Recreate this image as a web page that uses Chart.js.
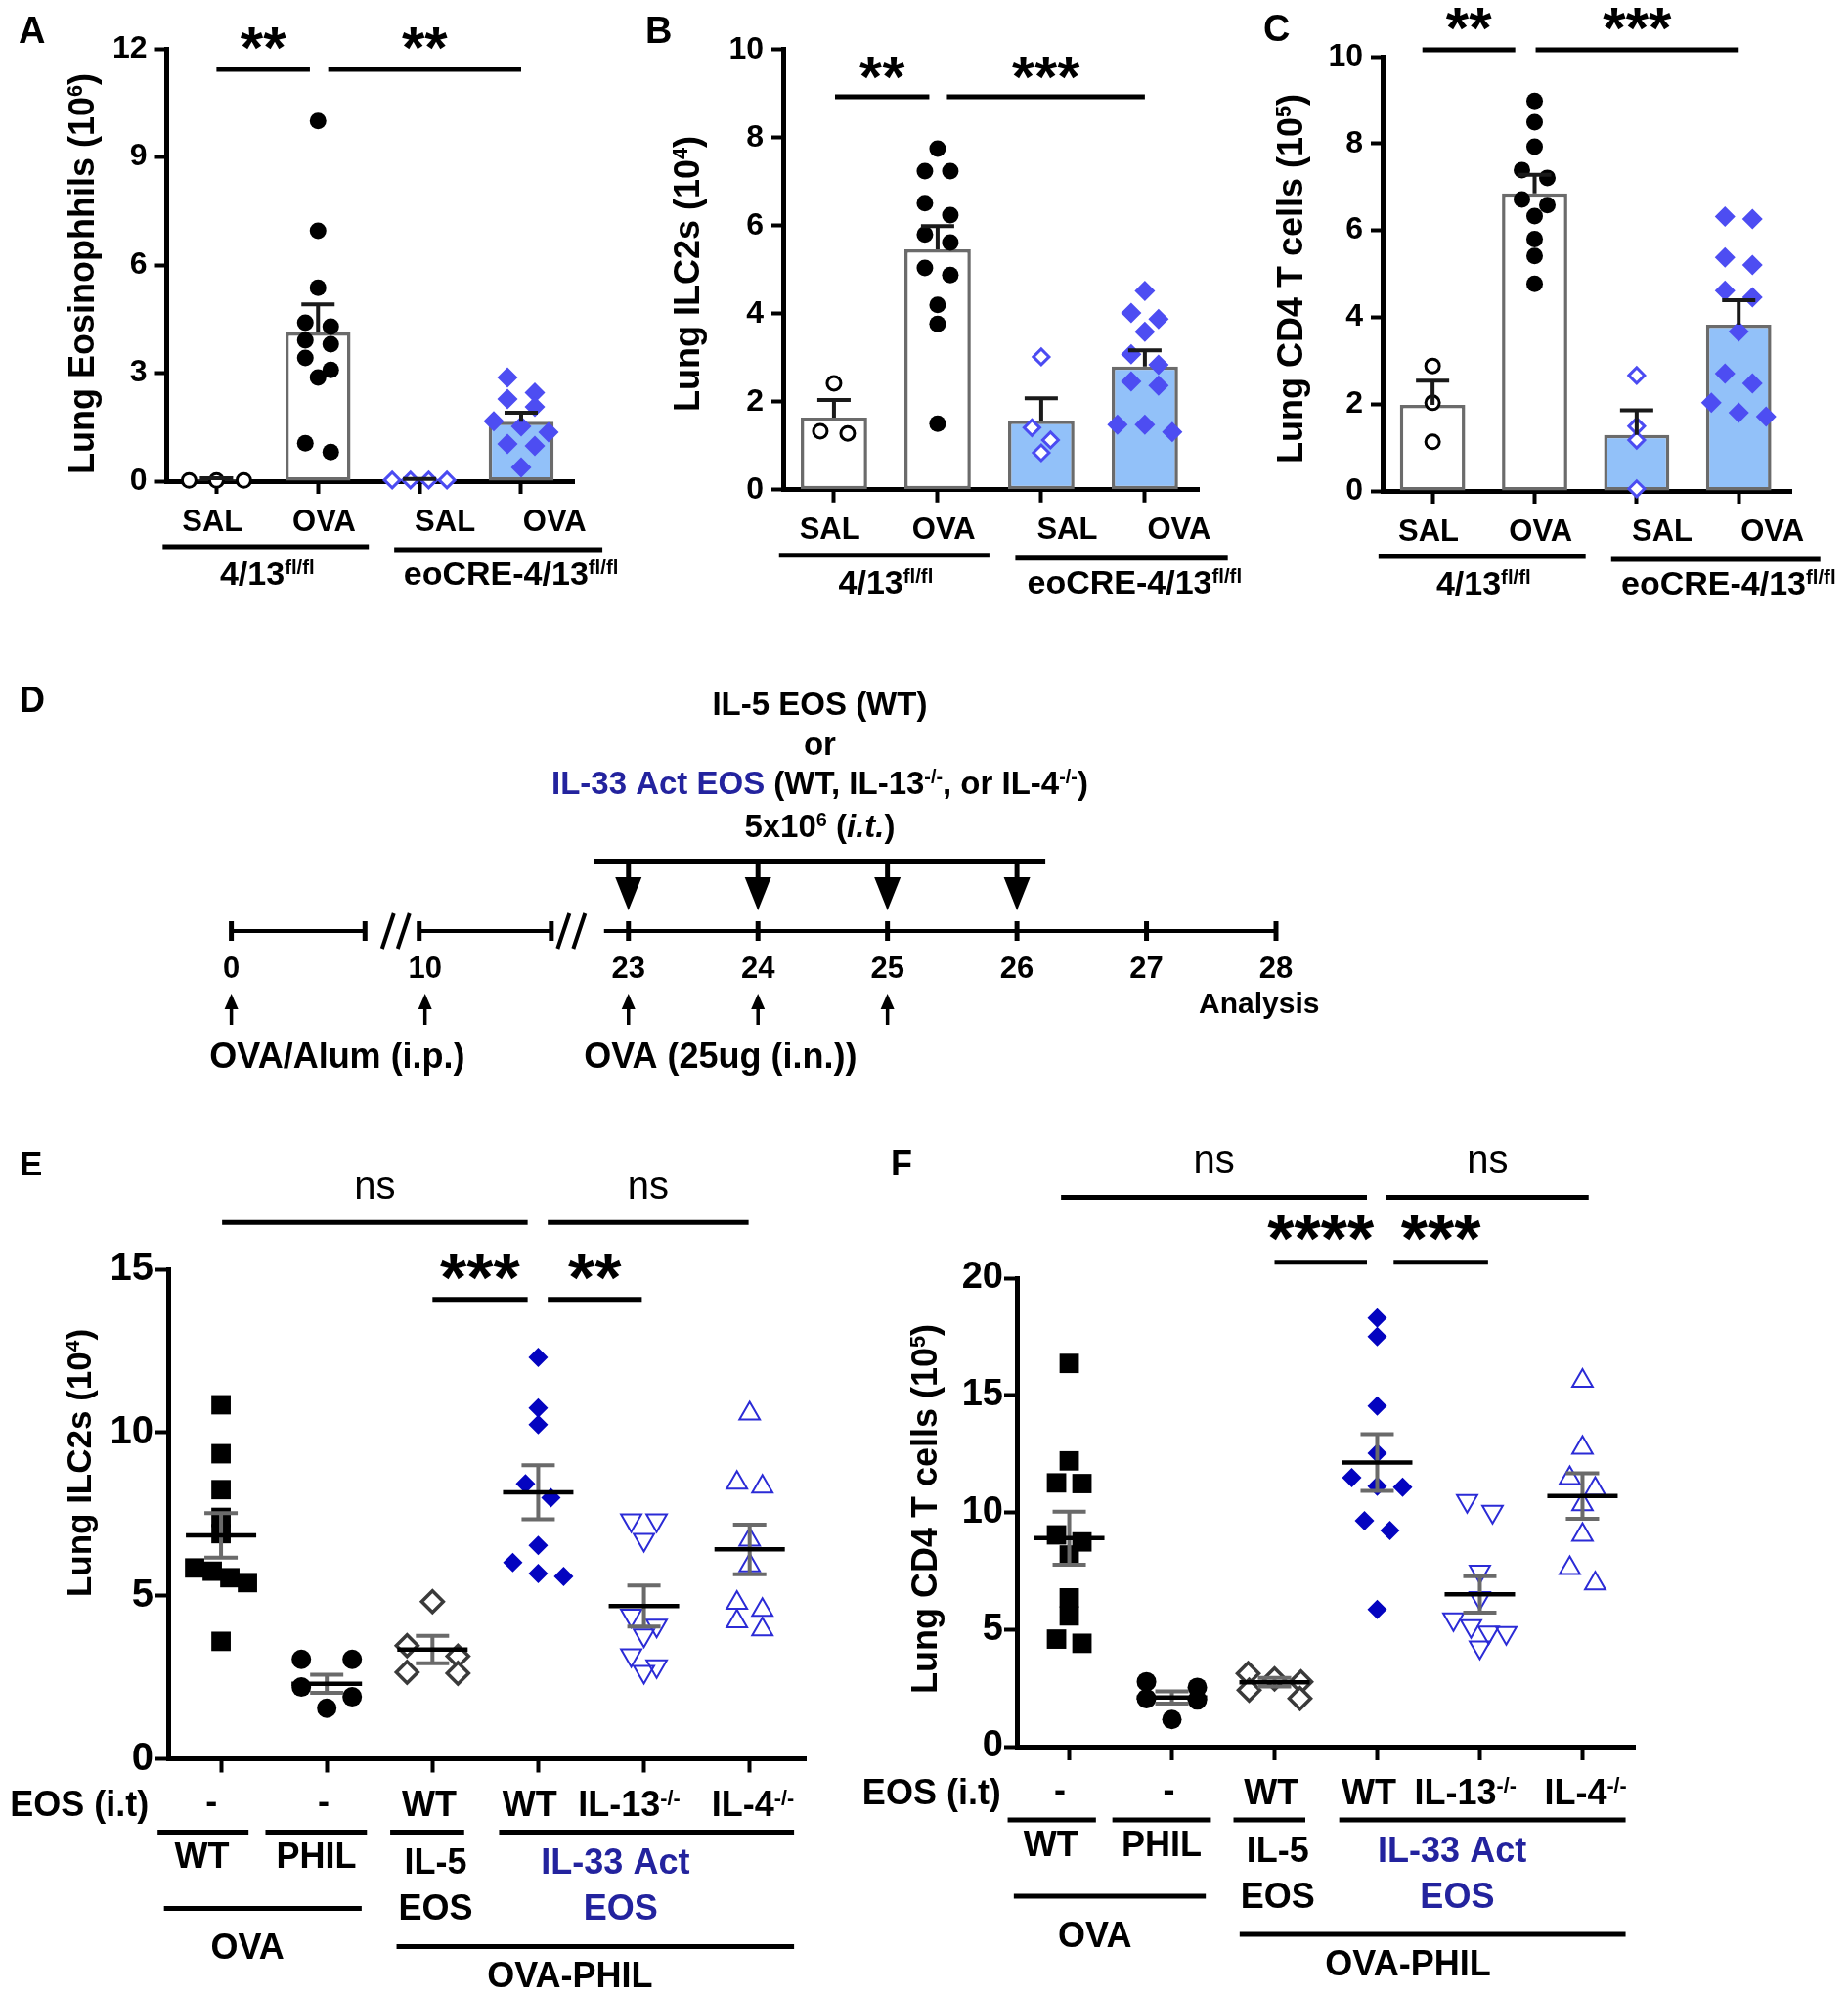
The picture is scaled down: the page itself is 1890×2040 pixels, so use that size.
<!DOCTYPE html>
<html>
<head>
<meta charset="utf-8">
<script src="https://cdn.jsdelivr.net/npm/chart.js@4.4.1/dist/chart.umd.min.js"></script>
<style>
html, body { margin: 0; padding: 0; background: #fff; }
#page { position: relative; width: 1890px; height: 2040px; overflow: hidden; background: #fff; }
canvas { position: absolute; }
</style>
</head>
<body>
<div id="page"></div>
<script>
// ---------- data ----------
const barCategories = ['SAL', 'OVA', 'SAL', 'OVA'];
const strainNames = [['4/13', 'fl/fl'], ['eoCRE-4/13', 'fl/fl']];

// A: lung eosinophils (10^6)
const aTicks = [0, 3, 6, 9, 12];
const aMean = [0.05, 4.13, 0.04, 1.65];
const aSem = [0.03, 0.78, 0.02, 0.25];
const aSal = [0.02, 0.02, 0.02];
const aOva = [10.0, 6.95, 5.37, 4.40, 4.29, 3.91, 3.80, 3.42, 3.09, 2.88, 1.05, 0.81];
const aEoSal = [0.03, 0.03, 0.03, 0.03];
const aEoOva = [2.88, 2.46, 2.28, 2.06, 1.66, 1.52, 1.36, 1.03, 0.98, 0.38];

// B: lung ILC2s (10^4)
const bTicks = [0, 2, 4, 6, 8, 10];
const bMean = [1.64, 5.46, 1.57, 2.80];
const bSem = [0.40, 0.53, 0.51, 0.37];
const bSal = [2.42, 1.33, 1.28];
const bOva = [7.75, 7.24, 7.24, 6.51, 6.24, 5.80, 5.62, 5.04, 4.88, 4.20, 3.77, 1.50];
const bEoSal = [3.02, 1.41, 1.13, 0.84];
const bEoOva = [4.52, 4.02, 3.88, 3.59, 3.08, 2.84, 2.46, 2.37, 1.48, 1.48, 1.31];

// C: lung CD4 T cells (10^5)
const cTicks = [0, 2, 4, 6, 8, 10];
const cMean = [1.98, 6.85, 1.29, 3.83];
const cSem = [0.56, 0.43, 0.57, 0.56];
const cSal = [2.88, 2.03, 1.13];
const cOva = [8.98, 8.49, 7.93, 7.39, 7.21, 6.71, 6.58, 6.33, 5.80, 5.41, 4.77];
const cEoSal = [2.66, 1.49, 1.17, 0.05];
const cEoOva = [6.32, 6.26, 5.38, 5.20, 4.61, 4.46, 3.67, 2.70, 2.48, 2.03, 1.80, 1.71];

// D: protocol timeline (days)
const timelineDays = [0, 10, 23, 24, 25, 26, 27, 28];
const eosTransferDays = [23, 24, 25, 26];
const ovaDays = [0, 10, 23, 24, 25];

// E: lung ILC2s (10^4)
const eTicks = [0, 5, 10, 15];
const eWT = [10.85, 9.35, 8.25, 7.4, 6.9, 5.85, 5.75, 5.55, 5.4, 3.6];
const ePhil = [3.05, 3.05, 2.2, 1.9, 1.55];
const eIl5 = [4.82, 3.47, 3.15, 2.65, 2.62];
const eIl33 = [12.3, 10.75, 10.24, 8.43, 8.0, 6.54, 6.02, 5.68, 5.59];
const eIl13 = [7.31, 7.31, 6.71, 4.39, 4.08, 3.78, 3.18, 2.84, 2.67];
const eIl4 = [10.58, 8.46, 8.34, 6.71, 5.93, 4.78, 4.56, 4.21, 3.96];
const eMean = [6.85, 2.3, 3.35, 8.17, 4.68, 6.42];
const eSem = [0.68, 0.28, 0.42, 0.83, 0.63, 0.76];

// F: lung CD4 T cells (10^5)
const fTicks = [0, 5, 10, 15, 20];
const fWT = [16.36, 12.2, 11.26, 11.23, 9.04, 8.74, 8.18, 6.35, 5.58, 4.59, 4.41];
const fPhil = [2.77, 2.53, 2.05, 1.99, 1.16];
const fIl5 = [3.12, 2.89, 2.77, 2.41, 2.06];
const fIl33 = [18.3, 17.51, 14.54, 12.53, 11.48, 11.12, 11.08, 9.65, 9.23, 5.86];
const fIl13 = [10.49, 10.03, 7.47, 6.35, 5.44, 5.15, 4.87, 4.85, 4.24];
const fIl4 = [15.62, 12.76, 11.46, 11.0, 10.34, 9.04, 7.62, 6.96];
const fMean = [8.9, 2.1, 2.75, 12.13, 6.5, 10.7];
const fSem = [1.13, 0.26, 0.18, 1.21, 0.78, 0.97];

// ---------- styles ----------
const FAMILY = '"Liberation Sans", Arial, Helvetica, sans-serif';
const TXT_BLUE = '#23239e';
const barFills = ['#ffffff', '#ffffff', '#92c1f9', '#92c1f9'];
const barDotStyles = [
    { shape: 'circle', r: 7, bg: '#ffffff', bc: '#000000', bw: 3, swarm: { step: 28, maxHalf: 28, dy: 14 } },
    { shape: 'circle', r: 8.5, bg: '#000000', bc: '#000000', bw: 0, swarm: { step: 26, maxHalf: 28, dy: 15 } },
    { shape: 'rectRot', r: 8, bg: '#ffffff', bc: '#4b4bf2', bw: 3, swarm: { step: 19, maxHalf: 28, dy: 14 } },
    { shape: 'rectRot', r: 10.5, bg: '#4d4df2', bc: '#4d4df2', bw: 0, swarm: { step: 28, maxHalf: 30, dy: 17 } }
];
const philStyles = [
    { shape: 'rect', r: 14, bg: '#000000', bc: '#000000', bw: 0, swarm: { step: 26, maxHalf: 27, dy: 16 } },
    { shape: 'circle', r: 10, bg: '#000000', bc: '#000000', bw: 0, swarm: { step: 52, maxHalf: 27, dy: 16 } },
    { shape: 'rectRot', r: 11, bg: '#ffffff', bc: '#3a3a3a', bw: 3.5, swarm: { step: 52, maxHalf: 27, dy: 16 } },
    { shape: 'rectRot', r: 10, bg: '#0404c0', bc: '#0404c0', bw: 0, swarm: { step: 26, maxHalf: 27, dy: 16 } },
    { shape: 'triangle', rot: 180, r: 12, bg: 'rgba(255,255,255,0)', bc: '#2b2bd6', bw: 2, swarm: { step: 26, maxHalf: 27, dy: 16 } },
    { shape: 'triangle', rot: 0, r: 12, bg: 'rgba(255,255,255,0)', bc: '#2b2bd6', bw: 2, swarm: { step: 26, maxHalf: 27, dy: 16 } }
];

// ---------- helpers ----------
const page = document.getElementById('page');

function makeCanvas(b) {
    const c = document.createElement('canvas');
    c.width = b.w; c.height = b.h;
    c.style.left = b.x + 'px'; c.style.top = b.y + 'px';
    c.style.width = b.w + 'px'; c.style.height = b.h + 'px';
    page.appendChild(c);
    return c;
}

function padFor(b, a, yW, xH) {
    return { left: a.l - b.x - yW, top: a.t - b.y, right: b.x + b.w - a.r, bottom: b.y + b.h - a.b - xH };
}

function fnt(size, weight, style) {
    return `${style || 'normal'} ${weight || 'bold'} ${size}px ${FAMILY}`;
}

// segs: [text, kind, colour]; kind n = normal, s = superscript, i = italic
function rich(ctx, segs, x, y, size, align) {
    const parts = segs.map(s => {
        const kind = s[1] || 'n';
        const f = kind === 's' ? fnt(size * 0.6) : kind === 'i' ? fnt(size, 'bold', 'italic') : fnt(size);
        ctx.font = f;
        return { t: s[0], kind, c: s[2] || '#000', f, w: ctx.measureText(s[0]).width };
    });
    const total = parts.reduce((a, p) => a + p.w, 0);
    let cx = align === 'left' ? x : align === 'right' ? x - total : x - total / 2;
    ctx.textAlign = 'left';
    ctx.textBaseline = 'middle';
    parts.forEach(p => {
        ctx.font = p.f;
        ctx.fillStyle = p.c;
        ctx.fillText(p.t, cx, p.kind === 's' ? y - size * 0.22 : y);
        cx += p.w;
    });
}

function glyphText(ctx, text, x, yc, font) {
    ctx.font = font;
    ctx.textAlign = 'center';
    ctx.textBaseline = 'alphabetic';
    ctx.fillStyle = '#000';
    const m = ctx.measureText(text);
    ctx.fillText(text, x, yc + (m.actualBoundingBoxAscent - m.actualBoundingBoxDescent) / 2);
}

function hline(ctx, x1, x2, y) {
    ctx.beginPath();
    ctx.moveTo(x1, y);
    ctx.lineTo(x2, y);
    ctx.stroke();
}

function yAxis(ticks, size, pad, yW, tl) {
    return {
        type: 'linear', min: ticks[0], max: ticks[ticks.length - 1],
        afterBuildTicks: s => { s.ticks = ticks.map(v => ({ value: v })); },
        afterFit: s => { s.width = yW; },
        border: { display: true, color: '#000', width: 5 },
        grid: { display: true, drawOnChartArea: false, drawTicks: true, tickLength: tl, tickWidth: 4, tickColor: '#000' },
        ticks: { color: '#000', padding: pad, font: { family: FAMILY, size: size, weight: 'bold' } }
    };
}

function xAxis(n, min, max, xH, tl) {
    return {
        type: 'linear', min, max, offset: false,
        afterBuildTicks: s => { s.ticks = Array.from({ length: n }, (_, i) => ({ value: i })); },
        afterFit: s => { s.height = xH; },
        border: { display: true, color: '#000', width: 5 },
        grid: { display: true, offset: false, drawOnChartArea: false, drawTicks: true, tickLength: tl, tickWidth: 4, tickColor: '#000' },
        ticks: { display: false }
    };
}

function dotDataset(vals, i, s) {
    return {
        type: 'scatter',
        data: vals.map(v => ({ x: i, y: v, cat: i })),
        pointStyle: s.shape, pointRadius: s.r, pointRotation: s.rot || 0,
        pointBackgroundColor: s.bg, pointBorderColor: s.bc, pointBorderWidth: s.bw,
        clip: false, order: 0, swarm: s.swarm
    };
}

// column scatter: points that sit on one row are spread symmetrically
function applySwarm(chart) {
    const xs = chart.scales.x, ys = chart.scales.y;
    const perCat = xs.getPixelForValue(1) - xs.getPixelForValue(0);
    chart.data.datasets.forEach(ds => {
        const sw = ds.swarm;
        if (!sw) return;
        const pts = ds.data.map(p => ({ ...p })).sort((a, b) => b.y - a.y);
        let row = [];
        const flush = () => {
            const n = row.length;
            if (!n) return;
            let step = sw.step;
            if (n > 1 && (n - 1) / 2 * step > sw.maxHalf) step = sw.maxHalf * 2 / (n - 1);
            row.forEach((p, j) => { p.x = p.cat + (j - (n - 1) / 2) * step / perCat; });
            row = [];
        };
        pts.forEach(p => {
            if (row.length && ys.getPixelForValue(p.y) - ys.getPixelForValue(row[0].y) >= sw.dy) flush();
            row.push(p);
        });
        flush();
        ds.data = pts;
    });
    chart.update('none');
}

function drawHeading(ctx, p) {
    ctx.save();
    ctx.translate(-p.box.x, -p.box.y);
    ctx.font = fnt(p.letter[3]);
    ctx.fillStyle = '#000';
    ctx.textAlign = 'left';
    ctx.textBaseline = 'alphabetic';
    ctx.fillText(p.letter[0], p.letter[1], p.letter[2]);
    ctx.translate(p.title.x, p.title.y);
    ctx.rotate(-Math.PI / 2);
    rich(ctx, p.title.segs, 0, 0, p.title.size);
    ctx.restore();
}

function drawSig(ctx, chart, p) {
    const X = v => chart.scales.x.getPixelForValue(v), Y = v => chart.scales.y.getPixelForValue(v);
    ctx.strokeStyle = '#000';
    ctx.lineWidth = 5;
    p.sig.forEach(([a, b, v, label]) => {
        hline(ctx, X(a), X(b), Y(v));
        const cx = (X(a) + X(b)) / 2;
        if (label === 'ns') glyphText(ctx, 'ns', cx, Y(v) - p.nsGap, fnt(40, 'normal'));
        else glyphText(ctx, label, cx, Y(v) - p.starGap, fnt(p.starSize));
    });
}

// ---------- bar panels A-C ----------
function drawBarErrors(chart, p) {
    const ctx = chart.ctx, ys = chart.scales.y;
    const meta = chart.getDatasetMeta(4);
    ctx.save();
    ctx.strokeStyle = '#1a1a1a';
    ctx.lineWidth = 4;
    meta.data.forEach((bar, i) => {
        const top = ys.getPixelForValue(p.mean[i] + p.sem[i]);
        ctx.beginPath();
        ctx.moveTo(bar.x, bar.y);
        ctx.lineTo(bar.x, top);
        ctx.moveTo(bar.x - 17, top);
        ctx.lineTo(bar.x + 17, top);
        ctx.stroke();
    });
    ctx.restore();
}

function drawBarText(chart, p) {
    const ctx = chart.ctx, xs = chart.scales.x, bottom = chart.chartArea.bottom;
    const X = v => xs.getPixelForValue(v);
    ctx.save();
    const labelAt = [-0.04, 1.06, 2.25, 3.33];
    barCategories.forEach((t, i) => rich(ctx, [[t]], X(labelAt[i]), bottom + 42, 31));
    ctx.strokeStyle = '#000';
    ctx.lineWidth = 5;
    hline(ctx, X(-0.53), X(1.5), bottom + 67);
    hline(ctx, X(1.75), X(3.8), bottom + 70);
    const strainAt = [0.5, 2.9];
    strainNames.forEach(([t, s], i) => rich(ctx, [[t], [s, 's']], X(strainAt[i]), bottom + 97, 34));
    drawSig(ctx, chart, p);
    ctx.restore();
    drawHeading(ctx, p);
}

function barPanel(p) {
    const yW = 100, xH = 14;
    const groups = [p.sal, p.ova, p.eoSal, p.eoOva];
    const datasets = groups.map((vals, i) => dotDataset(vals, i, barDotStyles[i]));
    datasets.push({
        type: 'bar',
        data: p.mean.map((v, i) => ({ x: i, y: v })),
        backgroundColor: barFills, borderColor: '#6b6b6b', borderWidth: 3.5, borderSkipped: false,
        barPercentage: 0.64, categoryPercentage: 1, order: 1
    });
    const chart = new Chart(makeCanvas(p.box), {
        type: 'scatter',
        data: { datasets },
        options: {
            responsive: false, animation: false, events: [],
            layout: { autoPadding: false, padding: padFor(p.box, p.area, yW, xH) },
            plugins: { legend: { display: false }, tooltip: { enabled: false } },
            scales: { x: xAxis(barCategories.length, -0.49, 3.52, xH, 13), y: yAxis(p.ticks, 32, 8, yW, 12) }
        },
        plugins: [{ id: 'barDeco', afterDatasetsDraw: c => drawBarErrors(c, p), afterDraw: c => drawBarText(c, p) }]
    });
    applySwarm(chart);
}

barPanel({
    box: { x: 0, y: 0, w: 660, h: 640 }, area: { l: 170.5, r: 587, t: 50, b: 492 },
    ticks: aTicks, mean: aMean, sem: aSem, sal: aSal, ova: aOva, eoSal: aEoSal, eoOva: aEoOva,
    letter: ['A', 19, 44, 38],
    title: { x: 86, y: 280, size: 36, segs: [['Lung Eosinophhils (10'], ['6', 's'], [')']] },
    sig: [[0, 0.92, 11.43, '**'], [1.1, 3.0, 11.43, '**']], starGap: 31, starSize: 60, nsGap: 34
});
barPanel({
    box: { x: 630, y: 0, w: 660, h: 640 }, area: { l: 801, r: 1226, t: 50.8, b: 500.8 },
    ticks: bTicks, mean: bMean, sem: bSem, sal: bSal, ova: bOva, eoSal: bEoSal, eoOva: bEoOva,
    letter: ['B', 660, 44, 38],
    title: { x: 705, y: 280, size: 36, segs: [['Lung ILC2s (10'], ['4', 's'], [')']] },
    sig: [[0.01, 0.92, 8.93, '**'], [1.09, 3.0, 8.93, '***']], starGap: 29, starSize: 60, nsGap: 34
});
barPanel({
    box: { x: 1260, y: 0, w: 630, h: 640 }, area: { l: 1414, r: 1832.5, t: 58, b: 502 },
    ticks: cTicks, mean: cMean, sem: cSem, sal: cSal, ova: cOva, eoSal: cEoSal, eoOva: cEoOva,
    letter: ['C', 1292, 42, 38],
    title: { x: 1322, y: 285, size: 36, segs: [['Lung CD4 T cells (10'], ['5', 's'], [')']] },
    sig: [[-0.1, 0.81, 10.16, '**'], [1.01, 3.0, 10.16, '***']], starGap: 31, starSize: 60, nsGap: 34
});

// ---------- D: timeline with broken day axis ----------
const timelineBreaks = [[0, 10, 198], [10, 23, 208], [23, 28, 662]];
const timelinePieces = [[0, 6.9], [9.7, 18.07], [21.44, 28]];
const timelineMarks = [0, 6.9, 9.7, 18.07, 23, 24, 25, 26, 27, 28];
const timelineGaps = [8.49, 19.35];

class BrokenScale extends Chart.LinearScale {
    getPixelForValue(value) {
        const total = timelineBreaks.reduce((s, b) => s + b[2], 0);
        let acc = 0;
        for (let i = 0; i < timelineBreaks.length; i++) {
            const [from, to, w] = timelineBreaks[i];
            if (value <= to || i === timelineBreaks.length - 1) {
                return this.getPixelForDecimal((acc + (value - from) / (to - from) * w) / total);
            }
            acc += w;
        }
    }
}
BrokenScale.id = 'broken';
BrokenScale.defaults = Chart.LinearScale.defaults;
Chart.register(BrokenScale);

function drawTimeline(chart) {
    const ctx = chart.ctx, xs = chart.scales.x, ys = chart.scales.y;
    const X = d => xs.getPixelForValue(d);
    const yLine = ys.getPixelForValue(0), yBar = ys.getPixelForValue(1);
    ctx.save();
    ctx.strokeStyle = '#000';
    ctx.fillStyle = '#000';
    ctx.lineWidth = 4;
    timelinePieces.forEach(([a, b]) => hline(ctx, X(a), X(b), yLine));
    ctx.lineWidth = 5;
    timelineMarks.forEach(d => {
        ctx.beginPath(); ctx.moveTo(X(d), yLine - 10); ctx.lineTo(X(d), yLine + 10); ctx.stroke();
    });
    ctx.lineWidth = 4;
    timelineGaps.forEach(d => {
        [-8, 8].forEach(o => {
            ctx.beginPath();
            ctx.moveTo(X(d) + o - 6, yLine + 18);
            ctx.lineTo(X(d) + o + 6, yLine - 18);
            ctx.stroke();
        });
    });
    timelineDays.forEach(d => rich(ctx, [[String(d)]], X(d), yLine + 39, 31));
    rich(ctx, [['Analysis']], X(27.87), yLine + 76, 30);

    // OVA challenge arrows
    ovaDays.forEach(d => {
        const x = X(d);
        ctx.lineWidth = 3.5;
        ctx.beginPath(); ctx.moveTo(x, yLine + 96); ctx.lineTo(x, yLine + 76); ctx.stroke();
        ctx.beginPath(); ctx.moveTo(x - 7, yLine + 80); ctx.lineTo(x, yLine + 64); ctx.lineTo(x + 7, yLine + 80); ctx.closePath(); ctx.fill();
    });
    rich(ctx, [['OVA/Alum (i.p.)']], X(5.47), yLine + 130, 36);
    rich(ctx, [['OVA (25ug (i.n.))']], X(23.71), yLine + 130, 36);

    // eosinophil transfer bar and arrows
    const b0 = X(eosTransferDays[0]) - 35, b1 = X(eosTransferDays[eosTransferDays.length - 1]) + 29;
    ctx.lineWidth = 6;
    hline(ctx, b0, b1, yBar);
    eosTransferDays.forEach(d => {
        const x = X(d);
        ctx.lineWidth = 5;
        ctx.beginPath(); ctx.moveTo(x, yBar); ctx.lineTo(x, yBar + 18); ctx.stroke();
        ctx.beginPath(); ctx.moveTo(x - 13.5, yBar + 16); ctx.lineTo(x, yBar + 50); ctx.lineTo(x + 13.5, yBar + 16); ctx.closePath(); ctx.fill();
    });
    const cx = (b0 + b1) / 2;
    rich(ctx, [['IL-5 EOS (WT)']], cx, yBar - 159, 33);
    rich(ctx, [['or']], cx, yBar - 118, 33);
    rich(ctx, [['IL-33 Act EOS', 'n', TXT_BLUE], [' (WT, IL-13'], ['-/-', 's'], [', or IL-4'], ['-/-', 's'], [')']], cx, yBar - 78, 33);
    rich(ctx, [['5x10'], ['6', 's'], [' ('], ['i.t.', 'i'], [')']], cx, yBar - 34, 33);

    ctx.font = fnt(36);
    ctx.textAlign = 'left';
    ctx.textBaseline = 'alphabetic';
    ctx.fillText('D', 20, 728 - 660);
    ctx.restore();
}

const dBox = { x: 0, y: 660, w: 1890, h: 480 };
new Chart(makeCanvas(dBox), {
    type: 'scatter',
    data: { datasets: [] },
    options: {
        responsive: false, animation: false, events: [],
        layout: { autoPadding: false, padding: { left: 236.6, right: 1890 - 1305, top: 881 - 660, bottom: 1140 - 952 } },
        plugins: { legend: { display: false }, tooltip: { enabled: false } },
        scales: {
            x: { type: 'broken', min: 0, max: 28, display: false },
            y: { type: 'linear', min: 0, max: 1, display: false }
        }
    },
    plugins: [{ id: 'timeline', afterDraw: drawTimeline }]
});

// ---------- dot-plot panels E-F ----------
function drawMeanSem(chart, p) {
    const ctx = chart.ctx, xs = chart.scales.x, ys = chart.scales.y;
    ctx.save();
    p.mean.forEach((m, i) => {
        const x = xs.getPixelForValue(i);
        const hi = ys.getPixelForValue(m + p.sem[i]), lo = ys.getPixelForValue(m - p.sem[i]), y = ys.getPixelForValue(m);
        ctx.strokeStyle = '#6a6a6a';
        ctx.lineWidth = 4;
        ctx.beginPath();
        ctx.moveTo(x, hi); ctx.lineTo(x, lo);
        ctx.moveTo(x - 17, hi); ctx.lineTo(x + 17, hi);
        ctx.moveTo(x - 17, lo); ctx.lineTo(x + 17, lo);
        ctx.stroke();
        ctx.strokeStyle = '#000';
        ctx.lineWidth = 4.5;
        hline(ctx, x - 36, x + 36, y);
    });
    ctx.restore();
}

function drawPhilText(chart, p) {
    const ctx = chart.ctx, xs = chart.scales.x;
    const X = v => xs.getPixelForValue(v);
    const B = chart.chartArea.bottom + p.rowShift;
    const S = 36;
    ctx.save();
    rich(ctx, [['EOS (i.t)']], X(-1.34), B + 53, S);
    glyphText(ctx, '-', X(-0.09), B + 50, fnt(S));
    glyphText(ctx, '-', X(0.97), B + 50, fnt(S));
    rich(ctx, [['WT']], X(1.97), B + 53, S);
    rich(ctx, [['WT']], X(2.92), B + 53, S);
    rich(ctx, [['IL-13'], ['-/-', 's']], X(3.86), B + 53, S);
    rich(ctx, [['IL-4'], ['-/-', 's']], X(5.03), B + 53, S);
    ctx.strokeStyle = '#000';
    ctx.lineWidth = 5;
    [[-0.6, 0.26], [0.42, 1.38], [1.6, 2.3], [2.63, 5.42]].forEach(([a, b]) => hline(ctx, X(a), X(b), B + 79));
    rich(ctx, [['WT']], X(-0.18), B + 106, S);
    rich(ctx, [['PHIL']], X(0.9), B + 106, S);
    rich(ctx, [['IL-5']], X(2.03), B + 112, S);
    rich(ctx, [['IL-33 Act', 'n', TXT_BLUE]], X(3.73), B + 112, S);
    rich(ctx, [['EOS']], X(2.03), B + 159, S);
    rich(ctx, [['EOS', 'n', TXT_BLUE]], X(3.78), B + 159, S);
    hline(ctx, X(-0.54), X(1.33), B + 157);
    rich(ctx, [['OVA']], X(0.25), B + 199, S);
    hline(ctx, X(1.66), X(5.42), B + 196);
    rich(ctx, [['OVA-PHIL']], X(3.3), B + 228, S);
    drawSig(ctx, chart, p);
    ctx.restore();
    drawHeading(ctx, p);
}

function philPanel(p) {
    const xH = 16;
    const datasets = p.groups.map((vals, i) => dotDataset(vals, i, philStyles[i]));
    const chart = new Chart(makeCanvas(p.box), {
        type: 'scatter',
        data: { datasets },
        options: {
            responsive: false, animation: false, events: [],
            layout: { autoPadding: false, padding: padFor(p.box, p.area, p.yW, xH) },
            plugins: { legend: { display: false }, tooltip: { enabled: false } },
            scales: { x: xAxis(p.groups.length, p.xmin, p.xmax, xH, 14), y: yAxis(p.ticks, p.tickSize, p.tickPad, p.yW, 13) }
        },
        plugins: [{ id: 'philDeco', afterDatasetsDraw: c => drawMeanSem(c, p), afterDraw: c => drawPhilText(c, p) }]
    });
    applySwarm(chart);
}

philPanel({
    box: { x: 0, y: 1140, w: 900, h: 900 }, area: { l: 172, r: 824, t: 1298, b: 1798.5 },
    xmin: -0.5, xmax: 5.53, yW: 120, ticks: eTicks, tickSize: 40, tickPad: 2,
    groups: [eWT, ePhil, eIl5, eIl33, eIl13, eIl4], mean: eMean, sem: eSem, rowShift: -4,
    letter: ['E', 20, 1202, 35],
    title: { x: 83, y: 1496, size: 35, segs: [['Lung ILC2s (10'], ['4', 's'], [')']] },
    sig: [[0.01, 2.9, 16.43, 'ns'], [3.09, 4.99, 16.43, 'ns'], [2.0, 2.9, 14.08, '***'], [3.09, 3.98, 14.08, '**']],
    starGap: 33, starSize: 70, nsGap: 35
});
philPanel({
    box: { x: 860, y: 1140, w: 1030, h: 900 }, area: { l: 1040, r: 1672, t: 1307, b: 1786 },
    xmin: -0.51, xmax: 5.51, yW: 110, ticks: fTicks, tickSize: 38, tickPad: 1,
    groups: [fWT, fPhil, fIl5, fIl33, fIl13, fIl4], mean: fMean, sem: fSem, rowShift: -4,
    letter: ['F', 911, 1202, 36],
    title: { x: 947.6, y: 1543, size: 36, segs: [['Lung CD4 T cells (10'], ['5', 's'], [')']] },
    sig: [[-0.08, 2.9, 23.44, 'ns'], [3.09, 5.06, 23.44, 'ns'], [2.0, 2.9, 20.68, '****'], [3.16, 4.08, 20.68, '***']],
    starGap: 35, starSize: 70, nsGap: 37
});
</script>
</body>
</html>
